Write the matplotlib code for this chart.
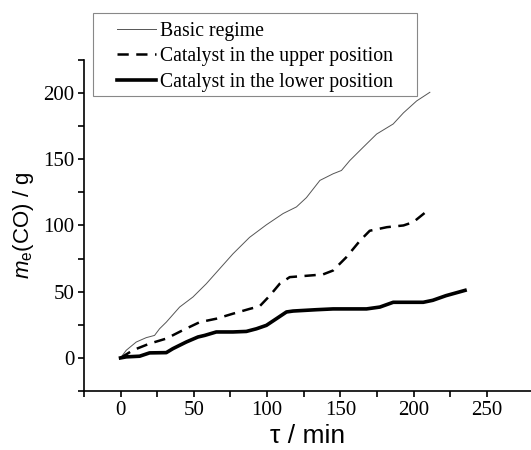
import numpy as np
import matplotlib.pyplot as plt
from matplotlib.ticker import MultipleLocator, FixedLocator
from matplotlib.patches import Rectangle

# data
t_basic = [0, 3.9, 10.7, 17.5, 23.2, 26.6, 31.2, 40.3, 49.4, 58.5, 67.6, 76.7, 88, 99.5,
           110.9, 120, 126.8, 136, 145, 150.7, 156.4, 165.5, 174.7, 186, 193, 202, 211]
m_basic = [0, 5.8, 12, 15.3, 17, 22, 27, 38.4, 46, 56, 67.3, 78.6, 91, 100.5,
           109, 114, 121, 134, 139, 141.5, 149, 159, 169, 176.6, 185, 194, 200.5]

t_upper = [0, 8.4, 19.8, 31.2, 42.6, 54, 65.3, 76.7, 88, 94.9, 101.8, 108.6, 115.4,
           126.8, 138, 145, 154, 163.5, 170, 181.7, 193, 199.7, 211]
m_upper = [0, 5.8, 10.8, 14.6, 21, 27, 29.6, 33.4, 37, 39, 47, 56, 61,
           62, 63, 66, 76, 88.7, 96, 98.7, 100, 102.5, 112.6]

t_lower = [0, 3.9, 13, 19.8, 31.2, 35.7, 44.8, 52.8, 57.4, 65.3, 76.7, 85.8, 92.7, 99.5,
           106.3, 113.2, 117.7, 133.6, 145, 167.8, 176.9, 186, 206.5, 213, 222, 235]
m_lower = [0, 0.8, 1.3, 3.8, 4, 7, 12, 15.8, 17, 19.6, 19.6, 20, 22, 24.6,
           29.6, 34.7, 35.4, 36.4, 37, 37, 38.4, 42, 42, 43.5, 47, 51]

labels = ['Basic regime', 'Catalyst in the upper position', 'Catalyst in the lower position']
x_minor = [-25, 25, 75, 125, 175, 225]

plt.rcParams['mathtext.fontset'] = 'custom'
plt.rcParams['mathtext.it'] = 'Liberation Sans:italic'
plt.rcParams['mathtext.rm'] = 'Liberation Sans'

fig = plt.figure(figsize=(5.31, 4.5), dpi=100)
ax = fig.add_axes([0.158, 0.131, 0.842, 0.736])

ax.plot(t_basic, m_basic, color='#555555', lw=0.7, label=labels[0])
ax.plot(t_upper, m_upper, color='black', lw=1.8, dashes=(4.5, 3), label=labels[1])
ax.plot(t_lower, m_lower, color='black', lw=2.6, label=labels[2])

ax.set_xlim(-25, 280)
ax.set_ylim(-25, 225)
ax.spines['top'].set_visible(False)
ax.spines['right'].set_visible(False)
ax.spines['left'].set_linewidth(1.2)
ax.spines['bottom'].set_linewidth(1.2)

ax.xaxis.set_major_locator(FixedLocator([0, 50, 100, 150, 200, 250]))
ax.xaxis.set_minor_locator(FixedLocator(x_minor))
ax.yaxis.set_major_locator(MultipleLocator(50))
ax.yaxis.set_minor_locator(MultipleLocator(25))
ax.tick_params(which='both', direction='out', length=4, width=1.2)
ax.tick_params(which='major', labelsize=15, pad=3)
for lab in ax.get_xticklabels() + ax.get_yticklabels():
    lab.set_fontfamily('Liberation Serif')

ax.set_xlabel('\u03c4 / min', fontfamily=['Liberation Sans'], fontsize=19, labelpad=3)
ax.set_ylabel(r'$m_\mathrm{e}$(CO) / g', fontfamily='Liberation Sans', fontsize=16, labelpad=5)

# legend frame drawn as its own box, as in the reference
fig.patches.append(Rectangle((93 / 531, 1 - 96 / 450), (417 - 93) / 531, (96 - 13) / 450,
                             transform=fig.transFigure, fill=False, ec='#888888', lw=0.8))
leg = fig.legend(loc='upper left', bbox_to_anchor=(117 / 531, 1 - 22 / 450),
                 prop={'family': 'Liberation Serif', 'size': 14.2}, frameon=False,
                 borderaxespad=0, borderpad=0, handlelength=2.0, handletextpad=0.2,
                 labelspacing=0.32)

fig.savefig('out.png', dpi=100)
